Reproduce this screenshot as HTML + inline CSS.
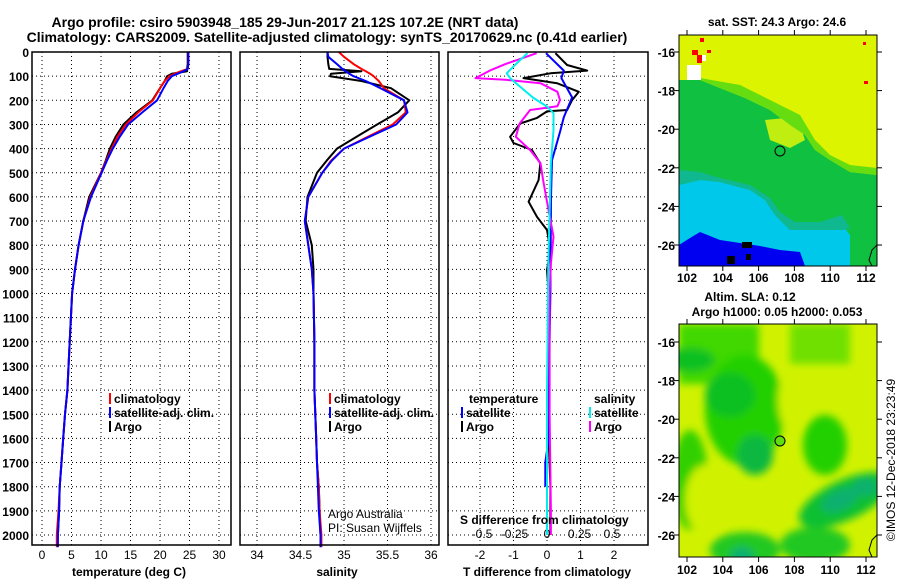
<!DOCTYPE html>
<html><head><meta charset="utf-8">
<style>
html,body{margin:0;padding:0;background:#fff;}
svg{display:block;font-family:"Liberation Sans",sans-serif;}
.b{font-weight:bold;font-size:12px;}
</style></head>
<body>
<svg id="fig" width="900" height="580" viewBox="0 0 900 580" xmlns="http://www.w3.org/2000/svg">
<defs>
<filter id="blur" x="-20%" y="-20%" width="140%" height="140%"><feGaussianBlur stdDeviation="4"/></filter>
<clipPath id="clipTop"><rect x="679" y="35" width="198" height="231"/></clipPath>
<clipPath id="clipBot"><rect x="679" y="324" width="198" height="233"/></clipPath>
</defs>
<text x="285" y="27" text-anchor="middle" font-weight="bold" font-size="14">Argo profile: csiro 5903948_185 29-Jun-2017 21.12S 107.2E (NRT data)</text>
<text x="327" y="42" text-anchor="middle" font-weight="bold" font-size="14">Climatology: CARS2009. Satellite-adjusted climatology: synTS_20170629.nc (0.41d earlier)</text>

<!-- top map -->
<g clip-path="url(#clipTop)">
<rect x="679" y="35" width="198" height="231" fill="#dcf400"/>
<polygon fill="#10c040" points="679,80 700,80 720,88 745,98 770,110 790,125 805,135 815,150 830,160 850,172 877,175 877,266 679,266"/>
<polygon fill="#c0ee10" points="765,120 785,118 800,125 805,140 790,148 770,140"/>
<polygon fill="#66dd10" points="700,78 740,85 770,100 800,115 815,140 830,155 850,165 877,168 877,175 850,172 830,160 815,150 805,135 790,125 770,110 745,98 720,88 700,80"/>
<polygon fill="#00c8ea" points="679,185 700,180 720,182 750,190 765,200 775,215 790,230 820,230 840,222 850,235 850,266 679,266"/>
<polygon fill="#10b890" points="679,170 700,172 720,178 750,185 770,198 780,212 795,222 820,222 842,215 850,228 843,230 820,230 790,230 775,215 765,200 750,190 720,182 700,180 679,185"/>
<polygon fill="#0000f0" points="679,245 690,238 700,232 720,240 740,243 760,246 780,250 800,252 805,266 679,266"/>
<rect x="687" y="65" width="14" height="15" fill="#fff"/>
<rect x="692" y="50" width="6" height="5" fill="#f00"/>
<rect x="697" y="55" width="5" height="8" fill="#f00"/>
<rect x="702" y="55" width="4" height="6" fill="#fff"/>
<rect x="700" y="38" width="4" height="4" fill="#f00"/>
<rect x="707" y="50" width="4" height="3" fill="#f00"/>
<rect x="863" y="42" width="3" height="3" fill="#f00"/>
<rect x="864" y="81" width="4" height="3" fill="#f00"/>
<rect x="742" y="242" width="10" height="6" fill="#000"/>
<rect x="746" y="254" width="5" height="6" fill="#000"/>
<rect x="727" y="256" width="8" height="8" fill="#000"/>
<polyline fill="none" stroke="#000" stroke-width="1" points="877,245 872,250 869,260 872,266"/>
<circle cx="780" cy="151" r="5" fill="#10c040" stroke="#000" stroke-width="1"/>
</g>
<rect x="679" y="35" width="198" height="231" fill="none" stroke="#000" stroke-width="1"/>
<text class="b" x="777" y="26" text-anchor="middle">sat. SST: 24.3 Argo: 24.6</text>

<!-- bottom map -->
<g clip-path="url(#clipBot)">
<rect x="679" y="324" width="198" height="233" fill="#d0f200"/>
<g filter="url(#blur)">
<rect x="679" y="324" width="80" height="60" fill="#40d800"/>
<rect x="790" y="324" width="60" height="40" fill="#70e000"/>
<ellipse cx="745" cy="410" rx="40" ry="55" fill="#20d000"/>
<ellipse cx="730" cy="395" rx="25" ry="22" fill="#10c020"/>
<ellipse cx="755" cy="455" rx="18" ry="20" fill="#10b840"/>
<ellipse cx="690" cy="360" rx="25" ry="12" fill="#10c020"/>
<ellipse cx="825" cy="445" rx="22" ry="30" fill="#20d000"/>
<ellipse cx="690" cy="480" rx="18" ry="50" fill="#30d000"/>
<ellipse cx="845" cy="500" rx="50" ry="20" fill="#10c030" transform="rotate(-25 845 500)"/>
<ellipse cx="840" cy="500" rx="20" ry="10" fill="#10b070" transform="rotate(-25 840 500)"/>
<ellipse cx="865" cy="487" rx="12" ry="9" fill="#10b070"/>
<ellipse cx="815" cy="545" rx="35" ry="18" fill="#20c820"/>
<ellipse cx="745" cy="550" rx="35" ry="18" fill="#20c820"/>
<ellipse cx="742" cy="555" rx="12" ry="8" fill="#10b070"/>
<ellipse cx="790" cy="400" rx="12" ry="30" fill="#d0f200"/>
<ellipse cx="705" cy="500" rx="20" ry="35" fill="#d0f200"/>
</g>
<polyline fill="none" stroke="#000" stroke-width="1" points="877,535 872,540 869,550 872,557"/>
<circle cx="780" cy="441" r="5" fill="#60dd10" stroke="#000" stroke-width="1"/>
</g>
<rect x="679" y="324" width="198" height="233" fill="none" stroke="#000" stroke-width="1"/>
<text class="b" x="750" y="301" text-anchor="middle">Altim. SLA: 0.12</text>
<text class="b" x="777" y="316" text-anchor="middle">Argo h1000: 0.05 h2000: 0.053</text>
<text x="0" y="0" font-size="12" transform="translate(895,460) rotate(-90)" text-anchor="middle">©IMOS 12-Dec-2018 23:23:49</text>
<g id="layer"></g>
</svg>
<script>
// ---- depth axis (shared) ----
const depthTicks = [0,100,200,300,400,500,600,700,800,900,1000,1100,1200,1300,1400,1500,1600,1700,1800,1900,2000];
const profDepth = [0,20,50,70,80,90,100,120,150,200,250,300,350,400,450,500,600,700,800,900,1000,1200,1400,1500,1600,1700,1800,1900,2000,2050];
// temperature (deg C)
const tempClim = [24.8,24.8,24.8,24.7,23.5,22.5,21.6,20.8,20.0,18.8,16.3,14.2,12.8,11.8,10.9,10.0,8.2,7.0,6.2,5.6,5.1,4.7,4.3,3.9,3.6,3.3,3.0,2.8,2.5,2.5];
const tempSat = [24.8,24.8,24.8,24.7,24.0,23.0,22.0,21.3,20.6,19.5,17.0,14.6,13.2,12.0,11.0,10.1,8.3,7.0,6.2,5.6,5.1,4.7,4.3,3.9,3.6,3.3,3.0,2.9,2.7,2.7];
const tempArgo = [24.7,24.7,24.7,24.6,24.6,22.0,21.2,20.8,20.0,18.7,16.0,13.8,12.5,11.5,10.8,10.0,8.0,7.0,6.2,5.6,5.1,4.7,4.3,3.9,3.6,3.3,3.0,2.9,2.7,2.6];
// salinity
const salClim = [34.94,35.0,35.11,35.2,35.25,35.3,35.34,35.4,35.46,35.69,35.71,35.56,35.28,35.0,34.85,34.75,34.59,34.55,34.59,34.63,34.65,34.66,34.66,34.67,34.68,34.69,34.71,34.72,34.74,34.74];
const salSat = [34.81,34.82,34.92,34.98,35.02,35.06,35.11,35.25,35.42,35.69,35.73,35.6,35.3,35.0,34.86,34.75,34.59,34.55,34.59,34.63,34.65,34.66,34.66,34.67,34.68,34.69,34.7,34.71,34.73,34.73];
const salArgo = [34.81,34.81,34.82,34.83,35.2,34.85,34.84,35.2,35.54,35.75,35.62,35.38,35.15,34.92,34.8,34.69,34.58,34.56,34.63,34.65,34.65,34.66,34.66,34.67,34.68,34.69,34.71,34.72,34.73,34.73];
// differences from climatology
const diffDepthArgoT = [5,54,77,88,108,129,165,199,240,246,273,296,351,377,406,461,530,620,683,737,820,903,1000,1200,1400,1600,1800,1900,2000];
const diffArgoT = [0.25,0.6,1.2,0.1,-0.7,0.3,0.95,0.75,0.6,0,-0.3,-0.8,-1.1,-1.0,-0.45,-0.2,-0.25,-0.55,-0.3,0,0.1,0.0,0.05,0.05,0.05,0.05,0.1,0.1,0.1];
const diffDepthSatT = [5,77,108,188,270,325,448,600,1000,1400,1600,1700,1800];
const diffSatT = [-0.03,0.5,0.43,0.75,0.5,0.4,0.15,0.12,0.1,0.05,0.05,-0.05,-0.05];
const diffDepthArgoS = [5,50,77,108,115,129,165,199,225,240,296,351,406,461,530,620,765,875,1000,1500,1900,2000];
const diffArgoS = [-0.08,-0.32,-0.44,-0.55,-0.32,-0.05,0.08,0.1,0.08,-0.13,-0.21,-0.24,-0.13,-0.05,-0.03,0,0.05,0.03,0.02,0.02,0.03,0.03];
const diffDepthSatS = [5,50,88,110,188,226,253,325,461,875,1400,2000];
const diffSatS = [-0.15,-0.24,-0.31,-0.28,-0.11,0,0.05,0.05,0.03,0.01,0,0];
const tempTicks = [0,5,10,15,20,25,30];
const salTicks = [34,34.5,35,35.5,36];
const salTickLabels = ['34','34.5','35','35.5','36'];
const tdiffTicks = [-2,-1,0,1,2];
const sdiffTicks = [-0.5,-0.25,0,0.25,0.5];
const latTicks = [-16,-18,-20,-22,-24,-26];
const lonTicks = [102,104,106,108,110,112];

const NS = 'http://www.w3.org/2000/svg';
const layer = document.getElementById('layer');
function mk(tag, attrs, parent){
  const e = document.createElementNS(NS, tag);
  for (const k in attrs) e.setAttribute(k, attrs[k]);
  (parent||layer).appendChild(e);
  return e;
}
const TOP=52, BOT=545;
function yD(d){ return TOP + d*0.2415; }
const xT = t => 42 + t*5.9;
const xS = s => 257 + (s-34)*87;
const xTd = v => 547 + v*33.5;
const xSd = v => 547 + v*130;
const panels = [{x0:32,x1:231,name:'temperature-panel'},{x0:240,x1:439,name:'salinity-panel'},{x0:448,x1:648,name:'difference-panel'}];

function vgrid(x){
  const g = mk('line',{x1:x,x2:x,y1:TOP,y2:BOT,stroke:'#000','stroke-width':1,'stroke-dasharray':'1 3'});
  
  
}
panels.forEach(p=>{
  depthTicks.forEach(d=>{
    if(d===0) return;
    const g = mk('line',{x1:p.x0,x2:p.x1,y1:yD(d),y2:yD(d),stroke:'#000','stroke-width':1,'stroke-dasharray':'1 3'});
    
    
  });
});
tempTicks.forEach(t=>vgrid(xT(t)));
salTicks.forEach(s=>vgrid(xS(s)));
tdiffTicks.forEach(v=>vgrid(xTd(v)));

depthTicks.forEach(d=>{
  const t = mk('text',{x:29,y:yD(d)+5,'text-anchor':'end',class:'b'});
  
  
  t.textContent = d;
});
function xlab(x,txt,y){
  const t = mk('text',{x:x,y:y,'text-anchor':'middle','font-size':12});
  
  
  t.textContent = txt;
}
tempTicks.forEach(t=>xlab(xT(t),t,559));
salTicks.forEach((s,i)=>xlab(xS(s),salTickLabels[i],559));
tdiffTicks.forEach(v=>xlab(xTd(v),v,559));
sdiffTicks.forEach(v=>xlab(xSd(v),''+v,538));

function series(xs, ds, fx, color, name, w){
  const pts = xs.map((v,i)=>fx(v).toFixed(1)+','+yD(ds[i]).toFixed(1)).join(' ');
  const p = mk('polyline',{points:pts,fill:'none',stroke:color,'stroke-width':w||2,'stroke-linejoin':'round'});
  
  
}
series(tempArgo,profDepth,xT,'#000','argo-temperature-line');
series(tempClim,profDepth,xT,'#f00','climatology-temperature-line');
series(tempSat,profDepth,xT,'#00f','satellite-temperature-line');
series(salArgo,profDepth,xS,'#000','argo-salinity-line');
series(salClim,profDepth,xS,'#f00','climatology-salinity-line');
series(salSat,profDepth,xS,'#00f','satellite-salinity-line');
series(diffArgoT,diffDepthArgoT,xTd,'#000','argo-temperature-difference-line');
series(diffSatT,diffDepthSatT,xTd,'#00f','satellite-temperature-difference-line');
series(diffArgoS,diffDepthArgoS,xSd,'#f0f','argo-salinity-difference-line');
series(diffSatS,diffDepthSatS,xSd,'#0ee','satellite-salinity-difference-line');

panels.forEach(p=>{
  const r = mk('rect',{x:p.x0,y:TOP,width:p.x1-p.x0,height:BOT-TOP,fill:'none',stroke:'#000','stroke-width':1.5});
  
  
});

function leg(x,y,color,txt){
  const b = mk('rect',{x:x,y:y-10,width:2,height:11,fill:color});
  
  
  const t = mk('text',{x:x+5,y:y,class:'b'});
  
  
  t.textContent = txt;
}
leg(109,403,'#f00','climatology');
leg(109,417,'#00f','satellite-adj. clim.');
leg(109,431,'#000','Argo');
leg(329,403,'#f00','climatology');
leg(329,417,'#00f','satellite-adj. clim.');
leg(329,431,'#000','Argo');
leg(461,417,'#00f','satellite');
leg(461,431,'#000','Argo');
leg(589,417,'#0ee','satellite');
leg(589,431,'#f0f','Argo');
function txt(x,y,s,name,cls,anchor,size){
  const t = mk('text',{x:x,y:y,'text-anchor':anchor||'start'});
  if(cls) t.setAttribute('class',cls);
  if(size) t.setAttribute('font-size',size);
  
  
  t.textContent = s;
  return t;
}
txt(469,403,'temperature','legend-temperature-heading','b');
txt(594,403,'salinity','legend-salinity-heading','b');
txt(460,524,'S difference from climatology','s-difference-axis-title','b');
txt(328,518,'Argo Australia','credit-argo-australia',null,'start',12);
txt(328,532,'PI: Susan Wijffels','credit-pi',null,'start',12);
txt(129,576,'temperature (deg C)','temperature-axis-title','b','middle');
txt(337,576,'salinity','salinity-axis-title','b','middle');
txt(547,576,'T difference from climatology','t-difference-axis-title','b','middle');

const latY1 = l => 52 + (-16-l)*19.3;
const latY2 = l => 342 + (-16-l)*19.3;
const lonX = l => 687 + (l-102)*17.9;
latTicks.forEach(l=>{
  [latY1(l),latY2(l)].forEach(y=>{
    const tk = mk('line',{x1:679,x2:674,y1:y,y2:y,stroke:'#000'});
    
    
    const tk2 = mk('line',{x1:877,x2:882,y1:y,y2:y,stroke:'#000'});
    
    
    txt(675,y+5,l,'latitude-tick-label','b','end');
  });
});
lonTicks.forEach(l=>{
  const x = lonX(l);
  [[266,271],[35,30],[557,562],[324,319]].forEach(p=>{
    const tk = mk('line',{x1:x,x2:x,y1:p[0],y2:p[1],stroke:'#000'});
    
    
  });
  txt(x,282,l,'longitude-tick-label','b','middle');
  txt(x,574,l,'longitude-tick-label','b','middle');
});
</script>
</body></html>
